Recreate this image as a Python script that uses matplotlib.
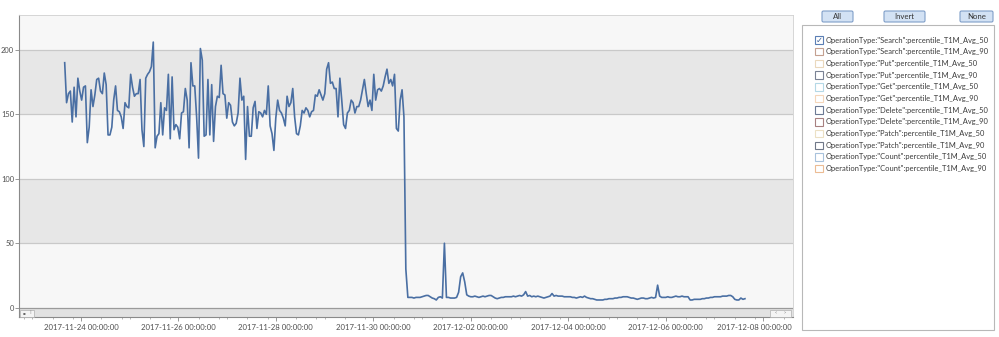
import pandas as pd
import matplotlib
matplotlib.use("Agg")
import matplotlib.pyplot as plt
import matplotlib.dates as mdates
from matplotlib.patches import Rectangle, FancyBboxPatch
from matplotlib.transforms import ScaledTranslation

# hourly-ish samples before the drop (11-23 16:00 .. 11-30 16:00)
before_drop = [190, 159, 166, 168, 144, 171, 148, 178, 168, 161,
               171, 172, 128, 140, 169, 156, 165, 177, 178, 168,
               166, 182, 173, 134, 134, 140, 161, 172, 153, 152,
               148, 139, 159, 156, 155, 181, 171, 164, 166, 166,
               177, 138, 125, 178, 181, 183, 187, 206, 124, 133,
               135, 159, 134, 155, 153, 181, 131, 179, 138, 142,
               140, 131, 151, 152, 170, 161, 124, 190, 172, 172,
               148, 116, 201, 192, 133, 134, 177, 134, 173, 129,
               156, 164, 163, 188, 166, 165, 147, 159, 157, 144,
               141, 143, 151, 178, 161, 164, 115, 156, 133, 133,
               155, 160, 139, 152, 151, 148, 153, 150, 172, 141,
               135, 122, 147, 161, 153, 151, 147, 141, 164, 156,
               159, 170, 148, 135, 134, 141, 153, 151, 155, 153,
               148, 152, 153, 165, 164, 169, 165, 161, 166, 185,
               190, 174, 175, 170, 170, 148, 178, 161, 142, 139,
               151, 153, 161, 159, 151, 156, 156, 161, 169, 177,
               166, 156, 161, 153, 181, 161, 169, 170, 168, 172,
               179, 185, 174, 177, 172, 181, 139, 137, 161, 169,
               148, 30]

# hourly samples after the drop (11-30 17:00 .. 12-07 15:00)
after_drop = [8, 8, 8, 7.5, 8, 8, 8, 8.5, 9, 9.5,
              9.5, 8.5, 7.5, 7, 6, 8, 8.5, 7.5, 50, 8,
              8, 7.5, 7.5, 7.5, 8, 12, 24, 27, 20, 10,
              9, 8.5, 8.5, 9, 8.5, 8, 8.5, 9, 8.5, 9,
              9.5, 9.5, 8.5, 7.5, 7, 7.5, 8, 8, 8.5, 8.5,
              8.5, 8.5, 9, 8.5, 9, 9.5, 9, 10, 12.5, 9,
              9.5, 8.5, 9, 8.5, 9, 8.5, 8, 7.5, 8, 8.5,
              9, 11, 9, 9.5, 9, 9, 9, 8.5, 8.5, 8.5,
              8.5, 8, 8, 7.5, 8, 8.5, 8, 9, 8, 7.5,
              7, 7, 6.5, 6, 6, 6, 6, 6.5, 6.5, 7,
              7, 7, 7.5, 7.5, 8, 8, 8.5, 8.5, 8.5, 8,
              7.5, 7.5, 7, 6.5, 7, 7.5, 7.5, 7, 7, 7.5,
              8, 7.5, 8, 17.5, 9, 8, 8, 8, 8.5, 8,
              8, 8.5, 9, 8.5, 8.5, 9, 8.5, 8.5, 8.5, 6,
              6, 6.5, 6.5, 6.5, 6.5, 7, 7, 7.5, 7.5, 8,
              8, 8.5, 8.5, 8.5, 8.5, 9, 9, 9, 9.5, 9.5,
              8.5, 6.5, 6, 6, 7.5, 6.5, 7]

series_names = ['OperationType:"Search":percentile_T1M_Avg_50',
                'OperationType:"Search":percentile_T1M_Avg_90',
                'OperationType:"Put":percentile_T1M_Avg_50',
                'OperationType:"Put":percentile_T1M_Avg_90',
                'OperationType:"Get":percentile_T1M_Avg_50',
                'OperationType:"Get":percentile_T1M_Avg_90',
                'OperationType:"Delete":percentile_T1M_Avg_50',
                'OperationType:"Delete":percentile_T1M_Avg_90',
                'OperationType:"Patch":percentile_T1M_Avg_50',
                'OperationType:"Patch":percentile_T1M_Avg_90',
                'OperationType:"Count":percentile_T1M_Avg_50',
                'OperationType:"Count":percentile_T1M_Avg_90']
box_colors = ["#5b7fb5", "#c4a090", "#ead8bc", "#7a8294", "#b4d8e6", "#f4d6ba",
              "#6c7a94", "#a88080", "#ece0c4", "#707888", "#a8c2dc", "#ecbc94"]
checked = [True] + [False] * 11
buttons = ["All", "Invert", "None"]

FONT = "Lato"
TXT = "#505050"

t1 = pd.date_range("2017-11-23 16:00", "2017-11-30 16:00", periods=len(before_drop))
t2 = pd.date_range("2017-11-30 17:00", "2017-12-07 15:00", periods=len(after_drop))
times = t1.append(t2)
values = before_drop + after_drop

fig = plt.figure(figsize=(9.99, 3.37), dpi=100)
fig.patch.set_facecolor("white")

W, H = 999, 337
ax = fig.add_axes([19 / W, (H - 317) / H, (793 - 19) / W, (317 - 15) / H])
ax.set_facecolor("#f7f7f7")
for lo in (50, 150):
    ax.axhspan(lo, lo + 50, color="#e7e7e7", zorder=0, lw=0)
for y in (50, 100, 150, 200):
    ax.axhline(y, color="#c9c9c9", lw=0.9, zorder=1)
# scrollbar strip under the plot
ax.axhspan(-7.2, 0, color="#e2e2e2", zorder=1, lw=0)
ax.axhline(0, color="#9a9a9a", lw=0.9, zorder=2)

ax.plot(times, values, color="#4a6fa3", lw=1.2, zorder=3)

ax.set_ylim(-7.2, 227)
ax.set_xlim(pd.Timestamp("2017-11-22 17:30"), pd.Timestamp("2017-12-08 14:40"))
ax.set_yticks([0, 50, 100, 150, 200])
ax.xaxis.set_major_locator(mdates.DayLocator(bymonthday=[2, 4, 6, 8, 24, 26, 28, 30]))
ax.xaxis.set_major_formatter(mdates.DateFormatter("%Y-%m-%d %H:%M:%S"))
ax.xaxis.set_minor_locator(mdates.HourLocator(byhour=[0, 10, 20]))
ax.tick_params(axis="x", which="major", length=3, width=0.6, color="#888888",
               labelsize=5.6, labelcolor=TXT, pad=2)
ax.tick_params(axis="x", which="minor", length=1.5, width=0.5, color="#999999")
ax.tick_params(axis="y", length=3, width=0.6, color="#888888", labelsize=5.4,
               labelcolor=TXT, pad=0.5)
for lab in ax.get_xticklabels() + ax.get_yticklabels():
    lab.set_family(FONT)
for side in ("top", "right"):
    ax.spines[side].set_color("#d0d0d0")
    ax.spines[side].set_linewidth(0.6)
for side in ("left", "bottom"):
    ax.spines[side].set_color("#8a8a8a")
    ax.spines[side].set_linewidth(0.8)

# the last date label is pulled left so it stays inside the panel
fig.canvas.draw()
last = ax.xaxis.get_major_ticks()[-1].label1
last.set_transform(last.get_transform() + ScaledTranslation(-9 / 100, 0, fig.dpi_scale_trans))

# overlay in pixel coordinates for the side panel and scrollbar buttons
ov = fig.add_axes([0, 0, 1, 1])
ov.set_xlim(0, W)
ov.set_ylim(H, 0)
ov.axis("off")

ov.add_patch(Rectangle((20, 309.5), 14, 7, facecolor="#f4f4f4", edgecolor="#b0b0b0", lw=0.5))
ov.text(24, 313, "▪", fontsize=3, color="#666666", ha="center", va="center")
ov.text(30, 313, "⁞", fontsize=4, color="#777777", ha="center", va="center")
ov.add_patch(Rectangle((770, 309.5), 21, 7, facecolor="#f4f4f4", edgecolor="#b0b0b0", lw=0.5))
ov.text(776, 313, "‹", fontsize=4, color="#777777", ha="center", va="center")
ov.text(785, 313, "›", fontsize=4, color="#777777", ha="center", va="center")

# buttons
btn_x = [822, 884, 960]
btn_w = [31, 41, 33]
for name, bx, bw in zip(buttons, btn_x, btn_w):
    ov.add_patch(FancyBboxPatch((bx, 11), bw, 11, boxstyle="round,pad=0,rounding_size=1.5",
                                facecolor="#d3e2f4", edgecolor="#7f9ec8", lw=0.8))
    ov.text(bx + bw / 2, 16.8, name, fontsize=5.6, family=FONT, color="#333333",
            ha="center", va="center")

# list box
ov.add_patch(Rectangle((802, 25), 192, 305, facecolor="white", edgecolor="#b8b8b8", lw=0.8))
for i, (name, col, chk) in enumerate(zip(series_names, box_colors, checked)):
    yc = 40 + i * 11.7
    ov.add_patch(Rectangle((815, yc - 3.8), 7.5, 7.5, facecolor="white", edgecolor=col, lw=0.8))
    if chk:
        ov.text(818.8, yc, "✓", fontsize=6, color="#3d5f95", ha="center", va="center",
                family="DejaVu Sans")
    ov.text(826, yc, name, fontsize=5.4, family=FONT, color="#3a3a3a", ha="left", va="center")

fig.savefig("out.png", dpi=100)
